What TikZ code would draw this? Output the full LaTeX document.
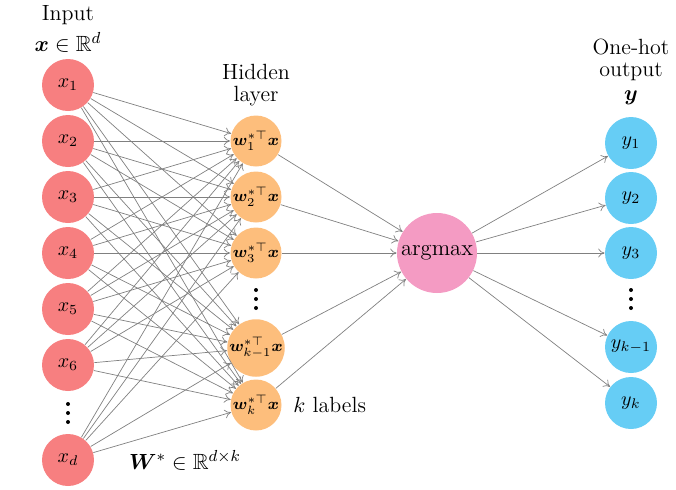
\documentclass[tikz,border=0pt]{standalone}
\usepackage{amsmath,amssymb,bm}
\usetikzlibrary{arrows.meta}
\definecolor{inred}{HTML}{F77F80}
\definecolor{hidor}{HTML}{FDBE7C}
\definecolor{argpk}{HTML}{F49BC3}
\definecolor{outbl}{HTML}{66CDF5}
\begin{document}
\begin{tikzpicture}[x=0.5pt,y=-0.5pt,
  base/.style={circle,inner sep=0pt,text=black},
  innode/.style={base,fill=inred,minimum size=26pt,font=\fontsize{10}{11}\selectfont},
  hidnode/.style={base,fill=hidor,minimum size=25.5pt,font=\fontsize{8.2}{9}\selectfont},
  argnode/.style={base,fill=argpk,minimum size=40pt,font=\fontsize{11.3}{13}\selectfont},
  outnode/.style={base,fill=outbl,minimum size=26pt,font=\fontsize{10}{11}\selectfont},
  lbl/.style={font=\fontsize{11}{12}\selectfont,inner sep=0pt},
  vdot/.style={fill=black},
  conn/.style={draw=gray,line width=0.35pt,-{To[length=3.2pt,width=4.4pt]}}]
\useasboundingbox (0,0) rectangle (676,489);
% input layer
\node[innode] (i1) at (68,85) {$x_1$};
\node[innode] (i2) at (68,141) {$x_2$};
\node[innode] (i3) at (68,197) {$x_3$};
\node[innode] (i4) at (68,253) {$x_4$};
\node[innode] (i5) at (68,309) {$x_5$};
\node[innode] (i6) at (68,365) {$x_6$};
\node[innode] (id) at (68,460) {$x_d$};
\foreach \yy in {404,413,422} \fill[vdot] (68,\yy) circle (2);
% hidden layer
\node[hidnode] (h1) at (256,141) {$\bm{w}_1^{*\top}\bm{x}$};
\node[hidnode] (h2) at (256,197) {$\bm{w}_2^{*\top}\bm{x}$};
\node[hidnode] (h3) at (256,253) {$\bm{w}_3^{*\top}\bm{x}$};
\foreach \yy in {290,299,308} \fill[vdot] (256,\yy) circle (2);
\node[hidnode] (hk1) at (256,348) {$\bm{w}_{k-1}^{*\top}\bm{x}$};
\node[hidnode] (hk) at (256,405) {$\bm{w}_k^{*\top}\bm{x}$};
% argmax
\node[argnode] (am) at (437,253) {argmax};
% outputs
\node[outnode] (o1) at (631,143) {$y_1$};
\node[outnode] (o2) at (631,198) {$y_2$};
\node[outnode] (o3) at (631,253) {$y_3$};
\foreach \yy in {290,299,308} \fill[vdot] (631,\yy) circle (2);
\node[outnode] (o4) at (631,347) {$y_{k-1}$};
\node[outnode] (o5) at (631,403) {$y_k$};
% labels
\node[lbl] (tIn) at (68,15) {Input};
\node[lbl] (tInM) at (68,42) {$\bm{x}\in\mathbb{R}^d$};
\node[lbl] (tH1) at (256,72) {Hidden};
\node[lbl] (tH2) at (256,96) {layer};
\node[lbl] (tO1) at (631,47) {One-hot};
\node[lbl] (tO2) at (631,72) {output};
\node[lbl] (tO3) at (631,98) {$\bm{y}$};
\node[lbl,anchor=west] (tk) at (293,405) {$k$ labels};
\node[lbl] (tW) at (185,460) {$\bm{W}^{*}\in\mathbb{R}^{d\times k}$};
% connections
\foreach \a in {i1,i2,i3,i4,i5,i6,id}
  \foreach \b in {h1,h2,h3,hk1,hk}
    \draw[conn] (\a) -- (\b);
\foreach \b in {h1,h2,h3,hk1,hk}
  \draw[conn] (\b) -- (am);
\foreach \c in {o1,o2,o3,o4,o5}
  \draw[conn] (am) -- (\c);
\end{tikzpicture}
\end{document}
